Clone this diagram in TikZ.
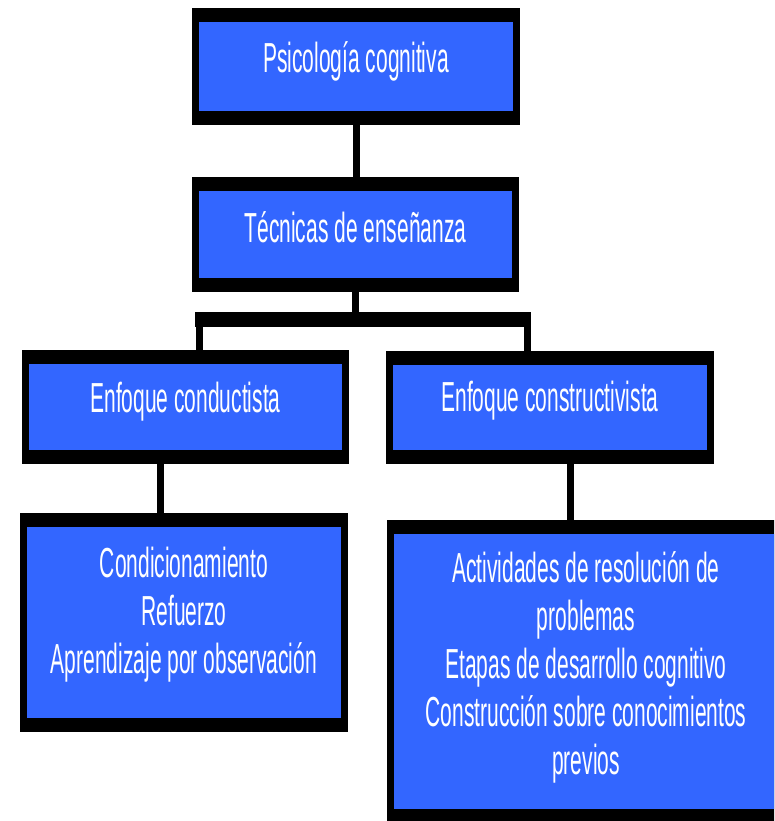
\documentclass[tikz,border=0pt]{standalone}
\usepackage{fontspec}
\newfontfamily\estrecha[FakeStretch=0.5]{Liberation Sans}
\definecolor{azulcaja}{RGB}{51,102,255}

\tikzset{
  caja/.style={rectangle, fill=black, inner sep=0pt, outer sep=0pt,
    path picture={\fill[azulcaja] ([shift={(7pt,14pt)}]path picture bounding box.south west)
      rectangle ([shift={(-7pt,-14pt)}]path picture bounding box.north east);}},
  texto/.style={text=white, inner sep=0pt, align=center,
    font=\estrecha\fontsize{42}{48}\selectfont},
  conector/.style={draw=black, line width=7pt},
  barra/.style={draw=black, line width=15pt},
}

\begin{document}
\begin{tikzpicture}[x=1pt, y=-1pt]

  \useasboundingbox (0,0) rectangle (774,821);
  \clip (0,0) rectangle (774,821);


  \node[caja, minimum width=328pt, minimum height=117pt] (psico) at (356,66.5) {};
  \node[caja, minimum width=327pt, minimum height=115pt] (tecnicas) at (355.5,234.5) {};
  \node[caja, minimum width=327pt, minimum height=114pt] (conductista) at (185.5,407) {};
  \node[caja, minimum width=328pt, minimum height=113pt] (constructivista) at (550,407.5) {};
  \node[caja, minimum width=328pt, minimum height=219pt] (lista1) at (184,622.5) {};
  \node[caja, minimum width=404pt, minimum height=303pt] (lista2) at (589,671.5) {};


  \node[texto, anchor=base] (tpsico) at ([yshift=-6.5pt]psico.center) {Psicología cognitiva};
  \node[texto, anchor=base] (ttecnicas) at ([yshift=-7.5pt]tecnicas.center) {Técnicas de enseñanza};
  \node[texto, anchor=base] (tconductista) at ([yshift=-5pt]conductista.center) {Enfoque conductista};
  \node[texto, anchor=base] (tconstructivista) at ([yshift=-4pt]constructivista.center) {Enfoque constructivista};
  \node[texto] (tlista1) at ([yshift=8pt]lista1.center)
    {Condicionamiento\\Refuerzo\\Aprendizaje por observación};
  \node[texto] (tlista2) at ([xshift=-3pt, yshift=4.5pt]lista2.center)
    {Actividades de resolución de\\problemas\\Etapas de desarrollo cognitivo\\Construcción sobre conocimientos\\previos};


  \coordinate (ramaI) at (199,319.5);
  \coordinate (ramaD) at (527.5,319.5);

  \draw[conector] (psico.south) -- (psico.south |- tecnicas.north);
  \draw[conector] (tecnicas.south) -- (tecnicas.south |- ramaI);
  \draw[barra] ([xshift=-4pt]ramaI) -- ([xshift=3.5pt]ramaD);
  \draw[conector] (ramaI) -- (ramaI |- conductista.north);
  \draw[conector] (ramaD) -- (ramaD |- constructivista.north);
  \draw[conector] ([xshift=-25pt]conductista.south) -- ([xshift=-25pt]conductista.south |- lista1.north);
  \draw[conector] ([xshift=20.5pt]constructivista.south) -- ([xshift=20.5pt]constructivista.south |- lista2.north);

\end{tikzpicture}
\end{document}
